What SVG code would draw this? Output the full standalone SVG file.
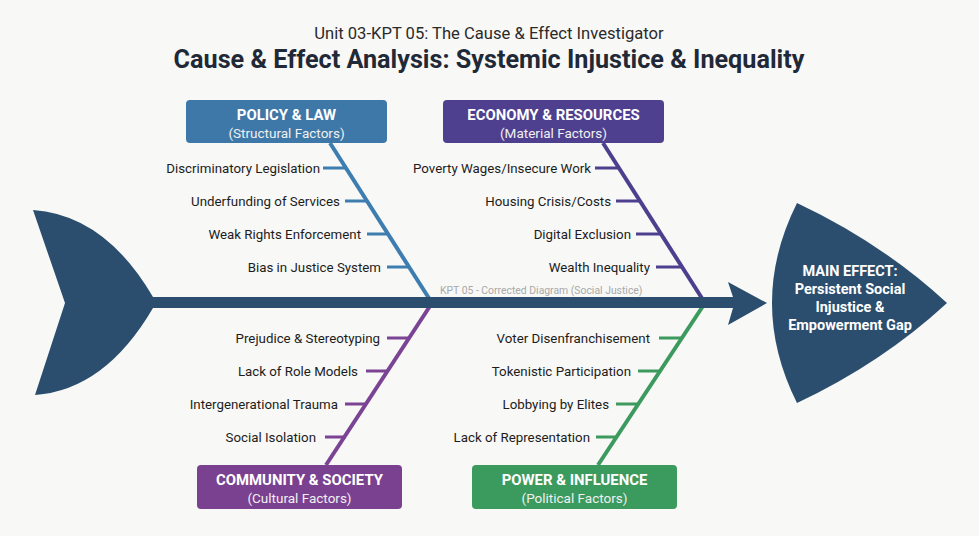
<svg xmlns="http://www.w3.org/2000/svg" width="979" height="536" viewBox="0 0 979 536">
<style>
.t{font-family:Roboto,"Liberation Sans",sans-serif;fill:#1c1c1c;font-size:13.3px}
.r{text-anchor:end}
.c{text-anchor:middle}
.hd{font-family:Roboto,"Liberation Sans",sans-serif;font-weight:bold;font-size:14.9px;fill:#fff;text-anchor:middle}
.sb{font-family:Roboto,"Liberation Sans",sans-serif;font-size:13.5px;fill:#f0f0f0;text-anchor:middle}
.me{font-family:Roboto,"Liberation Sans",sans-serif;font-weight:bold;font-size:14.5px;fill:#fff;text-anchor:middle}
.bone{stroke-width:4;fill:none}
.tick{stroke-width:3}
</style>
<rect width="979" height="536" fill="#f8f8f6"/>
<g id="title">
<text x="489" y="39" class="t c" style="font-size:16.6px;fill:#2a2a2a">Unit 03-KPT 05: The Cause &amp; Effect Investigator</text>
<text x="489" y="68" class="t c" style="font-size:25.2px;font-weight:bold;fill:#1f2937">Cause &amp; Effect Analysis: Systemic Injustice &amp; Inequality</text>
</g>
<g id="connectors">
<line class="bone" x1="330" y1="143" x2="432" y2="303" stroke="#3d7db0"/>
<line class="bone" x1="603" y1="143" x2="705" y2="303" stroke="#4d3f8e"/>
<line class="bone" x1="326" y1="465" x2="432" y2="303" stroke="#7b4394"/>
<line class="bone" x1="598" y1="465" x2="705" y2="303" stroke="#3d9a5f"/>
<g stroke="#3d7db0" class="tick">
<line x1="323" y1="168" x2="346" y2="168"/>
<line x1="345" y1="201" x2="367" y2="201"/>
<line x1="367" y1="234" x2="388" y2="234"/>
<line x1="387" y1="267" x2="409" y2="267"/>
</g>
<g stroke="#4d3f8e" class="tick">
<line x1="595" y1="168" x2="619" y2="168"/>
<line x1="616" y1="201" x2="640" y2="201"/>
<line x1="636" y1="234" x2="661" y2="234"/>
<line x1="656" y1="267" x2="682" y2="267"/>
</g>
<g stroke="#7b4394" class="tick">
<line x1="387" y1="338" x2="410" y2="338"/>
<line x1="366" y1="371" x2="388" y2="371"/>
<line x1="345" y1="404" x2="367" y2="404"/>
<line x1="325" y1="437" x2="346" y2="437"/>
</g>
<g stroke="#3d9a5f" class="tick">
<line x1="659" y1="338" x2="682" y2="338"/>
<line x1="638" y1="371" x2="660" y2="371"/>
<line x1="616" y1="404" x2="639" y2="404"/>
<line x1="596" y1="437" x2="617" y2="437"/>
</g>
</g>
<g id="spine">
<path d="M33,210 Q105,215 153,297 L153,308 Q105,390 35,395 L65,303 Z" fill="#2b4d6e"/>
<rect x="150" y="297" width="586" height="11" fill="#2b4d6e"/>
<polygon points="728,282 767,303 728,325 733,308 733,297" fill="#2b4d6e"/>
<text x="440" y="294" style="font-family:Roboto,'Liberation Sans',sans-serif;font-size:10.4px;fill:#a9a9a9">KPT 05 - Corrected Diagram (Social Justice)</text>
</g>
<g id="effect">
<path d="M797,203 Q882,243 947,303 Q882,363 797,403 Q747,303 797,203 Z" fill="#2b4d6e"/>
<text x="850" y="276" class="me">MAIN EFFECT:</text>
<text x="850" y="294" class="me">Persistent Social</text>
<text x="850" y="312" class="me">Injustice &amp;</text>
<text x="850" y="330" class="me">Empowerment Gap</text>
</g>
<g id="policy">
<rect x="186" y="100" width="201" height="43" rx="4" fill="#3d78a9"/>
<text x="286.5" y="120" class="hd">POLICY &amp; LAW</text>
<text x="286.5" y="137.5" class="sb">(Structural Factors)</text>
<text x="320" y="172.5" class="t r">Discriminatory Legislation</text>
<text x="340" y="205.5" class="t r">Underfunding of Services</text>
<text x="361" y="238.5" class="t r">Weak Rights Enforcement</text>
<text x="381" y="271.5" class="t r">Bias in Justice System</text>
</g>
<g id="economy">
<rect x="443" y="100" width="221" height="43" rx="4" fill="#4e3f8f"/>
<text x="553.5" y="120" class="hd">ECONOMY &amp; RESOURCES</text>
<text x="553.5" y="137.5" class="sb">(Material Factors)</text>
<text x="591" y="172.5" class="t r">Poverty Wages/Insecure Work</text>
<text x="611" y="205.5" class="t r">Housing Crisis/Costs</text>
<text x="631" y="238.5" class="t r">Digital Exclusion</text>
<text x="650" y="271.5" class="t r">Wealth Inequality</text>
</g>
<g id="community">
<rect x="197" y="465" width="205" height="44" rx="4" fill="#7a4190"/>
<text x="299.5" y="485" class="hd">COMMUNITY &amp; SOCIETY</text>
<text x="299.5" y="502.5" class="sb">(Cultural Factors)</text>
<text x="380" y="342.5" class="t r">Prejudice &amp; Stereotyping</text>
<text x="358" y="375.5" class="t r">Lack of Role Models</text>
<text x="338" y="408.5" class="t r">Intergenerational Trauma</text>
<text x="316" y="441.5" class="t r">Social Isolation</text>
</g>
<g id="power">
<rect x="472" y="465" width="205" height="44" rx="4" fill="#3b9a5d"/>
<text x="574.5" y="485" class="hd">POWER &amp; INFLUENCE</text>
<text x="574.5" y="502.5" class="sb">(Political Factors)</text>
<text x="650" y="342.5" class="t r">Voter Disenfranchisement</text>
<text x="631" y="375.5" class="t r">Tokenistic Participation</text>
<text x="609" y="408.5" class="t r">Lobbying by Elites</text>
<text x="590" y="441.5" class="t r">Lack of Representation</text>
</g>
</svg>
